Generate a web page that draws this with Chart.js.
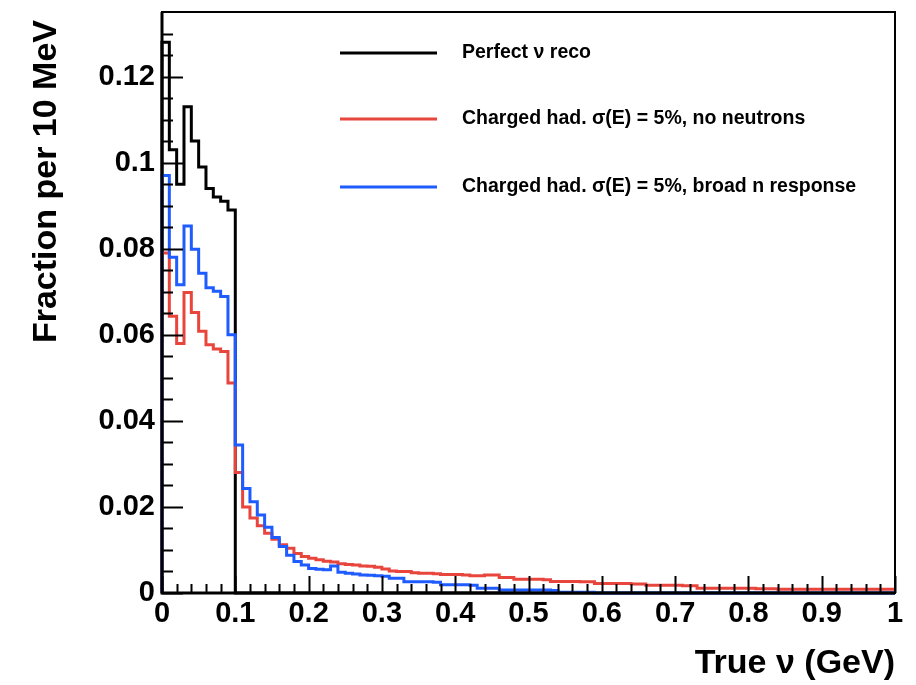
<!DOCTYPE html>
<html>
<head>
<meta charset="utf-8">
<script src="https://cdn.jsdelivr.net/npm/chart.js@4.4.0/dist/chart.umd.min.js"></script>
<style>
html, body { margin: 0; padding: 0; background: #fff; }
</style>
</head>
<body>
<canvas id="histo" width="916" height="685"></canvas>
<script>
// 100 bins of 10 MeV, 0 - 1 GeV
var binWidth = 0.01;

var perfectReco = [
    0.128, 0.103, 0.095, 0.113, 0.105, 0.099, 0.094, 0.092, 0.091, 0.089,
    0, 0, 0, 0, 0, 0, 0, 0, 0, 0,
    0, 0, 0, 0, 0, 0, 0, 0, 0, 0,
    0, 0, 0, 0, 0, 0, 0, 0, 0, 0,
    0, 0, 0, 0, 0, 0, 0, 0, 0, 0,
    0, 0, 0, 0, 0, 0, 0, 0, 0, 0,
    0, 0, 0, 0, 0, 0, 0, 0, 0, 0,
    0, 0, 0, 0, 0, 0, 0, 0, 0, 0,
    0, 0, 0, 0, 0, 0, 0, 0, 0, 0,
    0, 0, 0, 0, 0, 0, 0, 0, 0, 0
];

var noNeutrons = [
    0.079, 0.0643, 0.058, 0.0698, 0.0652, 0.0608, 0.0577, 0.0567, 0.0561, 0.0488,
    0.028, 0.020, 0.0174, 0.0156, 0.0139, 0.0125, 0.0112, 0.0104, 0.0092, 0.0085,
    0.0081, 0.0077, 0.0074, 0.0072, 0.0068, 0.0066, 0.0065, 0.0063, 0.0062, 0.0060,
    0.0056, 0.0051, 0.0050, 0.0050, 0.0047, 0.0046, 0.0046, 0.0045, 0.0043, 0.0043,
    0.0043, 0.0042, 0.0040, 0.0040, 0.0042, 0.0042, 0.0036, 0.0036, 0.0032, 0.0032,
    0.0032, 0.0032, 0.0031, 0.0027, 0.0027, 0.0027, 0.0027, 0.0026, 0.0026, 0.0022,
    0.0022, 0.0022, 0.0022, 0.0022, 0.0021, 0.0021, 0.0018, 0.0018, 0.0018, 0.0018,
    0.0018, 0.0017, 0.0017, 0.0011, 0.0011, 0.0011, 0.0011, 0.0011, 0.0011, 0.0011,
    0.0011, 0.0010, 0.0010, 0.0010, 0.0009, 0.0009, 0.0009, 0.0009, 0.0009, 0.0009,
    0.0009, 0.0009, 0.0009, 0.0009, 0.0009, 0.0009, 0.0009, 0.0009, 0.0009, 0.0009
];

var broadResponse = [
    0.097, 0.078, 0.0716, 0.0853, 0.0799, 0.0743, 0.0709, 0.0701, 0.0689, 0.060,
    0.0344, 0.0243, 0.0212, 0.0181, 0.0153, 0.0129, 0.0108, 0.0088, 0.0073, 0.0065,
    0.0057, 0.0055, 0.0054, 0.0063, 0.0048, 0.0046, 0.0044, 0.0042, 0.0041, 0.0040,
    0.0039, 0.0034, 0.0034, 0.0026, 0.0026, 0.0026, 0.0026, 0.0025, 0.0019, 0.0019,
    0.0019, 0.0019, 0.0018, 0.0011, 0.0011, 0.0011, 0.0007, 0.0007, 0.0007, 0.0007,
    0.0007, 0.0007, 0.0007, 0.0006, 0.0002, 0.0002, 0.0002, 0.0002, 0.0002, 0,
    0, 0, 0, 0, 0, 0, 0, 0, 0, 0,
    0, 0, 0, 0, 0, 0, 0, 0, 0, 0,
    0, 0, 0, 0, 0, 0, 0, 0, 0, 0,
    0, 0, 0, 0, 0, 0, 0, 0, 0, 0
];

var seriesNames = [
    "Perfect ν reco",
    "Charged had. σ(E) = 5%, no neutrons",
    "Charged had. σ(E) = 5%, broad n response"
];
var seriesColors = ["#000000", "#e8453c", "#1f5cff"];

var xTickValues = [0, 0.1, 0.2, 0.3, 0.4, 0.5, 0.6, 0.7, 0.8, 0.9, 1];
var xTickLabels = ["0", "0.1", "0.2", "0.3", "0.4", "0.5", "0.6", "0.7", "0.8", "0.9", "1"];
var yTickValues = [0, 0.02, 0.04, 0.06, 0.08, 0.1, 0.12];
var yTickLabels = ["0", "0.02", "0.04", "0.06", "0.08", "0.1", "0.12"];
var yTitle = "Fraction per 10 MeV";
var xTitle = "True ν (GeV)";

var FONT = "'Liberation Sans', Arial, Helvetica, sans-serif";

// histogram outline as step points (left bin edges)
function toSteps(values) {
    var pts = [{ x: 0, y: 0 }];
    for (var i = 0; i < values.length; i++) {
        pts.push({ x: i * binWidth, y: values[i] });
    }
    pts.push({ x: values.length * binWidth, y: values[values.length - 1] });
    return pts;
}

// ROOT style inner ticks + frame + y title
var framePlugin = {
    id: "frame",
    afterDraw: function (chart) {
        var ctx = chart.ctx;
        var a = chart.chartArea;
        var xs = chart.scales.x;
        var ys = chart.scales.y;
        ctx.save();
        ctx.strokeStyle = "#000";
        ctx.lineWidth = 2;
        ctx.beginPath();
        var v, p;
        for (v = 0; v <= 0.1301; v += 0.005) {
            p = Math.round(ys.getPixelForValue(v)) + 0.5;
            var major = Math.abs(v / 0.02 - Math.round(v / 0.02)) < 1e-6;
            ctx.moveTo(a.left, p);
            ctx.lineTo(a.left + (major ? 21 : 11), p);
        }
        for (v = 0; v <= 1.0001; v += 0.02) {
            p = Math.round(xs.getPixelForValue(v)) + 0.5;
            var majorX = Math.abs(v / 0.1 - Math.round(v / 0.1)) < 1e-6;
            ctx.moveTo(p, a.bottom);
            ctx.lineTo(p, a.bottom - (majorX ? 17 : 9));
        }
        ctx.stroke();
        ctx.lineWidth = 2;
        ctx.strokeRect(a.left, a.top, a.right - a.left, a.bottom - a.top);
        ctx.lineWidth = 3;
        ctx.beginPath();
        ctx.moveTo(a.left, a.top);
        ctx.lineTo(a.left, a.bottom);
        ctx.lineTo(a.right, a.bottom);
        ctx.stroke();

        // y title, right-aligned to the top of the axis like ROOT
        ctx.translate(47, 20);
        ctx.rotate(-Math.PI / 2);
        ctx.font = "bold 34px " + FONT;
        ctx.fillStyle = "#000";
        ctx.textAlign = "right";
        ctx.textBaseline = "middle";
        ctx.fillText(yTitle, 0, 0);
        ctx.restore();
    }
};

var legendPlugin = {
    id: "rootLegend",
    afterDatasetsDraw: function (chart) {
        var ctx = chart.ctx;
        var rows = [53, 119, 187];
        ctx.save();
        ctx.font = "bold 19.5px " + FONT;
        ctx.textBaseline = "middle";
        ctx.fillStyle = "#000";
        for (var i = 0; i < seriesNames.length; i++) {
            ctx.strokeStyle = seriesColors[i];
            ctx.lineWidth = 3;
            ctx.beginPath();
            ctx.moveTo(340, rows[i]);
            ctx.lineTo(437, rows[i]);
            ctx.stroke();
            ctx.fillText(seriesNames[i], 462, rows[i]);
        }
        ctx.restore();
    }
};

var datasets = [perfectReco, noNeutrons, broadResponse].map(function (vals, i) {
    return {
        label: seriesNames[i],
        data: toSteps(vals),
        borderColor: seriesColors[i],
        borderWidth: 3,
        pointRadius: 0,
        stepped: "before",
        fill: false,
        clip: false,
        order: 3 - i
    };
});

var chart = new Chart(document.getElementById("histo"), {
    type: "line",
    data: { datasets: datasets },
    options: {
        responsive: false,
        animation: false,
        devicePixelRatio: 1,
        layout: { padding: { top: 12, right: 21, left: 0, bottom: 0 } },
        plugins: {
            legend: { display: false },
            tooltip: { enabled: false }
        },
        scales: {
            x: {
                type: "linear",
                min: 0,
                max: 1,
                afterBuildTicks: function (scale) {
                    scale.ticks = xTickValues.map(function (v) { return { value: v }; });
                },
                afterFit: function (scale) {
                    scale.height = 92;
                    scale.paddingLeft = 0;
                    scale.paddingRight = 0;
                },
                grid: { display: false, drawTicks: false },
                border: { display: false },
                ticks: {
                    autoSkip: false,
                    maxRotation: 0,
                    padding: 4,
                    color: "#000",
                    font: { family: FONT, size: 29, weight: "bold" },
                    callback: function (value, index) { return xTickLabels[index]; }
                },
                title: {
                    display: true,
                    text: xTitle,
                    align: "end",
                    color: "#000",
                    font: { family: FONT, size: 34, weight: "bold" },
                    padding: { top: 0, bottom: 1 }
                }
            },
            y: {
                type: "linear",
                min: 0,
                max: 0.135,
                afterBuildTicks: function (scale) {
                    scale.ticks = yTickValues.map(function (v) { return { value: v }; });
                },
                afterFit: function (scale) {
                    scale.width = 162;
                    scale.paddingTop = 0;
                    scale.paddingBottom = 0;
                },
                grid: { display: false, drawTicks: false },
                border: { display: false },
                ticks: {
                    padding: 7,
                    color: "#000",
                    font: { family: FONT, size: 29, weight: "bold" },
                    callback: function (value, index) { return yTickLabels[index]; }
                },
                title: { display: false }
            }
        }
    },
    plugins: [framePlugin, legendPlugin]
});
</script>
</body>
</html>
